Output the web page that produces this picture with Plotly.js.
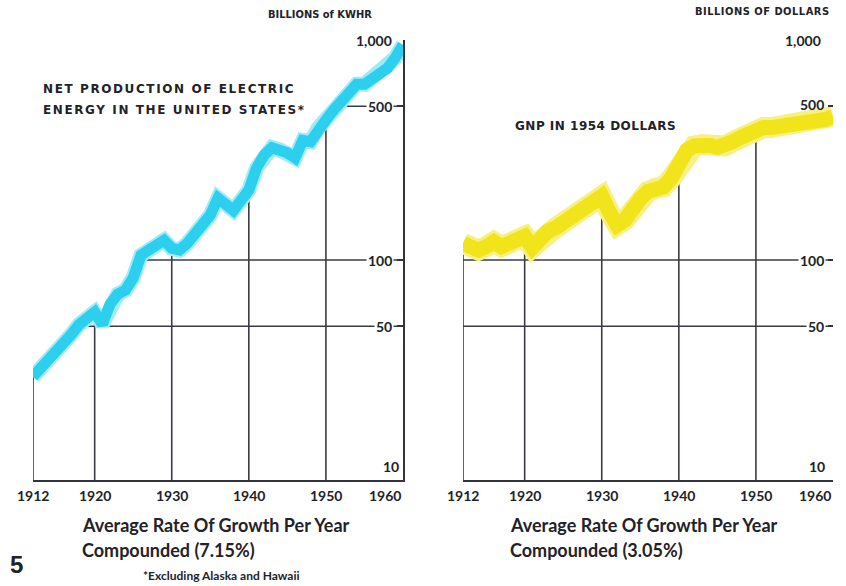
<!DOCTYPE html>
<html><head><meta charset="utf-8">
<script src="https://cdn.plot.ly/plotly-3.0.1.min.js"></script>
<style>html,body{margin:0;padding:0;background:#fff}</style>
</head><body><div id="chart" style="width:846px;height:586px"></div>
<script>
// ---------- DATA ----------
const years = [1912,1913,1914,1915,1916,1917,1918,1919,1920,1921,1922,1923,1924,1925,1926,1927,1928,1929,1930,1931,1932,1933,1934,1935,1936,1937,1938,1939,1940,1941,1942,1943,1944,1945,1946,1947,1948,1949,1950,1951,1952,1953,1954,1955,1956,1957,1958,1959,1960];
// Net production of electric energy, billions of kWh
const electricBkwh = [29.5,32,35,38,42,46,51,55,58,51,63,70,73,83,105,111,117,123,113,111,119,130,143,160,191,178,168,187,208,262,300,324,317,307,291,350,345,398,433,480,530,590,630,630,670,710,745,830,950];
// GNP in 1954 dollars, billions
const gnpBillions = [119,116,111,115,121,115,120,126,128,114,125,135,140,148,158,165,178,192,195,165,144,152,172,190,205,212,215,235,270,315,330,335,332,325,330,345,360,370,395,400,400,405,400,410,418,425,420,435,450];

const gridYears = [1912,1920,1930,1940,1950];
const xTickYears = [1912,1920,1930,1940,1950,1960];
const yTickVals = [1000,500,100,50,10];
const yTickText = ["1,000","500","100","50","10"];
const electricGridVals = [500,100,50];
const gnpGridVals = [100,50];

// ---------- HELPERS ----------
const L = Math.log10;
function valueAt(xs, ys, x){
  for(let i=1;i<xs.length;i++){
    if(x<=xs[i]){
      const t=(x-xs[i-1])/(xs[i]-xs[i-1]);
      return Math.pow(10, L(ys[i-1])+t*(L(ys[i])-L(ys[i-1])));
    }
  }
  return ys[ys.length-1];
}
function crossing(xs, ys, v){
  if(ys[0]>=v) return xs[0];
  for(let i=1;i<xs.length;i++){
    if(ys[i]>=v){
      const t=(L(v)-L(ys[i-1]))/(L(ys[i])-L(ys[i-1]));
      return xs[i-1]+t*(xs[i]-xs[i-1]);
    }
  }
  return xs[xs.length-1];
}
const xMin = years[0], xMax = years[years.length-1];
function gridTrace(ys, hVals, xa, ya){
  const gx=[], gy=[];
  gridYears.forEach(g=>{ gx.push(g,g,null); gy.push(10, valueAt(years, ys, g), null); });
  hVals.forEach(v=>{ gx.push(crossing(years, ys, v), xMax, null); gy.push(v, v, null); });
  return {x:gx, y:gy, xaxis:xa, yaxis:ya, mode:'lines', line:{color:'#3b3b45', width:1.6}, hoverinfo:'skip', showlegend:false, connectgaps:false};
}
function band(ys, xa, ya, halo, core, wHalo, wCore){
  return [
    {x:years, y:ys, xaxis:xa, yaxis:ya, mode:'lines', line:{color:halo, width:wHalo}, hoverinfo:'skip', showlegend:false},
    {x:years, y:ys, xaxis:xa, yaxis:ya, mode:'lines', line:{color:core, width:wCore}, hoverinfo:'skip', showlegend:false}
  ];
}

const traces = [
  gridTrace(electricBkwh, electricGridVals, 'x', 'y'),
  ...band(electricBkwh, 'x', 'y', '#9fecf8', '#2ccfee', 15, 11),
  gridTrace(gnpBillions, gnpGridVals, 'x2', 'y2'),
  ...band(gnpBillions, 'x2', 'y2', '#f7f185', '#f2e41a', 21, 15)
];

// ---------- LAYOUT ----------
const W=846, H=586;
const px = x => x/W, py = y => 1 - y/H;
const yDom = [py(480), py(40)];
const lato = 'Lato, Roboto, sans-serif';
const dejavu = 'DejaVu Sans, sans-serif';
const dejavuCond = 'DejaVu Sans Condensed, DejaVu Sans, sans-serif';
const dark = '#222228';

const annotations = [];
yTickVals.forEach((v,i)=>{
  const isBase = v===10;
  annotations.push({xref:'x', yref:'y', x:xMax, y:L(v), text:yTickText[i], showarrow:false,
    xanchor:'right', yanchor: isBase?'bottom':'middle', xshift: isBase?-2:-9, yshift: isBase?3:0,
    font:{family:lato, size:14, color:dark, weight:'bold'},
    bgcolor: electricGridVals.includes(v)?'#ffffff':'rgba(0,0,0,0)', borderpad:1});
  annotations.push({xref:'x2', yref:'y2', x:xMax, y:L(v), text:yTickText[i], showarrow:false,
    xanchor:'right', yanchor: isBase?'bottom':'middle', xshift: isBase?-6:(v===1000?-10:-7), yshift: isBase?3:(v===500?2:0),
    font:{family:lato, size:14, color:dark, weight:'bold'},
    bgcolor: gnpGridVals.includes(v)?'#ffffff':'rgba(0,0,0,0)', borderpad:1});
});
xTickYears.forEach(yr=>{
  const last = yr===xMax;
  ['x','x2'].forEach(xr=>{
    annotations.push({xref:xr, yref:'paper', x:yr, y:yDom[0], yshift:-5, text:String(yr), showarrow:false,
      xanchor: last?'right':'center', yanchor:'top', font:{family:lato, size:14, color:dark, weight:'bold'}});
  });
});
function txt(text, x, y, size, family){
  annotations.push({xref:'paper', yref:'paper', x:px(x), y:py(y), text, showarrow:false,
    xanchor:'left', yanchor:'middle', font:{family:family||lato, size, color:dark, weight:'bold'}});
}
txt('BILLIONS of KWHR', 266, 14, 11, dejavuCond);
txt('NET PRODUCTION OF ELECTRIC', 41, 89, 12, dejavu);
txt('ENERGY IN THE UNITED STATES*', 41, 110, 12, dejavu);
txt('BILLIONS OF DOLLARS', 693, 12, 11, dejavuCond);
txt('GNP IN 1954 DOLLARS', 513, 126, 12, dejavu);
txt('Average Rate Of Growth Per Year', 80, 525, 18);
txt('Compounded (7.15%)', 80, 550, 18);
txt('Average Rate Of Growth Per Year', 508, 525, 18);
txt('Compounded (3.05%)', 508, 550, 18);
txt('5', 8, 564, 24, 'Liberation Sans, Arial, sans-serif');
txt('*Excluding Alaska and Hawaii', 141, 575, 12);

const xBase = {range:[xMin,xMax], showgrid:false, zeroline:false, showticklabels:false, ticks:'',
  showline:true, linecolor:'#33333d', linewidth:2, fixedrange:true};
const yBase = {type:'log', range:[1,3], domain:yDom, showgrid:false, zeroline:false, showticklabels:false,
  side:'right', tickvals:yTickVals, ticks:'inside', ticklen:6, tickwidth:1.5, tickcolor:'#33333d', fixedrange:true};

const layout = {
  width:W, height:H, margin:{l:0,r:0,t:0,b:0}, paper_bgcolor:'#fff', plot_bgcolor:'rgba(0,0,0,0)',
  showlegend:false,
  xaxis: Object.assign({}, xBase, {domain:[px(33), px(403)], anchor:'y'}),
  yaxis: Object.assign({}, yBase, {anchor:'x', showline:true, linecolor:'#33333d', linewidth:2}),
  xaxis2: Object.assign({}, xBase, {domain:[px(463), px(833)], anchor:'y2'}),
  yaxis2: Object.assign({}, yBase, {anchor:'x2', showline:false, ticklen:5}),
  annotations
};
const letterSpacing = {
  'NET PRODUCTION OF ELECTRIC':'1.6px',
  'ENERGY IN THE UNITED STATES*':'1.6px',
  'GNP IN 1954 DOLLARS':'0.5px',
  'BILLIONS OF DOLLARS':'0.5px'
};
Plotly.newPlot('chart', traces, layout, {staticPlot:true, displayModeBar:false}).then(gd=>{
  gd.querySelectorAll('text.annotation-text').forEach(t=>{
    const s = letterSpacing[t.textContent];
    if(!s) return;
    const before = t.getBBox().x;
    t.style.letterSpacing = s;
    const after = t.getBBox().x;
    const x0 = parseFloat(t.getAttribute('x')) || 0;
    t.setAttribute('x', x0 + (before - after));
  });
});
</script></body></html>
